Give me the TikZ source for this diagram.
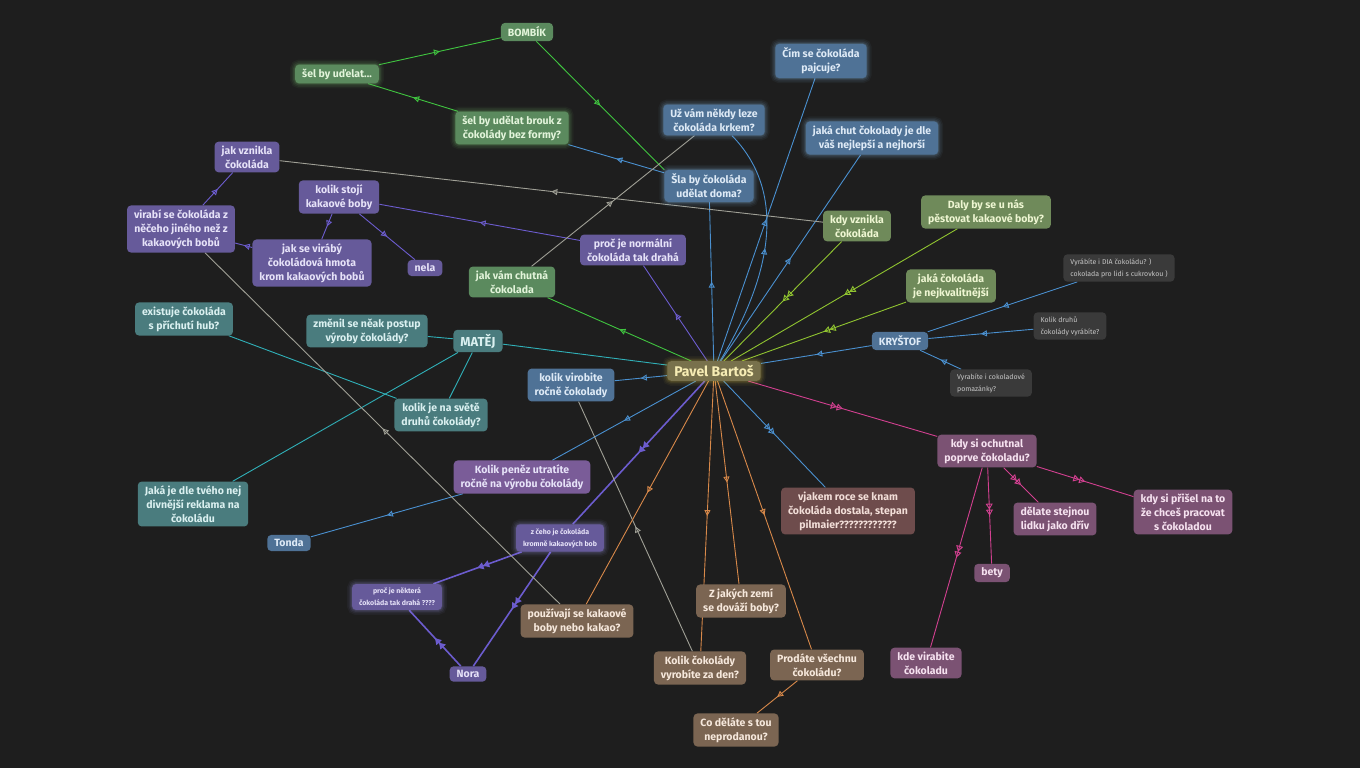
\documentclass[tikz,border=0pt]{standalone}
\usepackage{fontspec}
\setmainfont{Fira Sans}
\usetikzlibrary{arrows.meta,decorations.markings,backgrounds}

\definecolor{bgc}{RGB}{30,30,30}
\definecolor{ctrfill}{RGB}{120,113,76}
\definecolor{ctrtext}{RGB}{246,236,180}
\definecolor{ctrglow}{RGB}{214,190,70}
\definecolor{grnfill}{RGB}{91,138,94}
\definecolor{grntext}{RGB}{226,244,218}
\definecolor{grnline}{RGB}{64,196,64}
\definecolor{grnglow}{RGB}{130,210,120}
\definecolor{blufill}{RGB}{79,114,150}
\definecolor{blutext}{RGB}{222,234,246}
\definecolor{bluline}{RGB}{74,144,208}
\definecolor{bluglow}{RGB}{140,190,235}
\definecolor{purfill}{RGB}{102,90,154}
\definecolor{purfill2}{RGB}{122,92,152}
\definecolor{purtext}{RGB}{230,226,248}
\definecolor{purline}{RGB}{108,92,206}
\definecolor{purglow}{RGB}{160,150,230}
\definecolor{olvfill}{RGB}{111,138,90}
\definecolor{olvtext}{RGB}{238,246,210}
\definecolor{olvline}{RGB}{144,196,48}
\definecolor{teafill}{RGB}{74,124,126}
\definecolor{teatext}{RGB}{218,240,240}
\definecolor{tealine}{RGB}{48,176,184}
\definecolor{gryfill}{RGB}{58,58,58}
\definecolor{grytext}{RGB}{200,200,200}
\definecolor{pnkfill}{RGB}{123,82,115}
\definecolor{pnktext}{RGB}{246,226,240}
\definecolor{pnkline}{RGB}{210,64,144}
\definecolor{brnfill}{RGB}{123,101,82}
\definecolor{brntext}{RGB}{246,232,220}
\definecolor{brnline}{RGB}{216,137,74}
\definecolor{redfill}{RGB}{110,76,76}
\definecolor{redtext}{RGB}{242,222,216}
\definecolor{greyline}{RGB}{160,160,150}

\begin{document}
\begin{tikzpicture}[x=1pt,y=-1pt,
            every node/.style={rounded corners=4pt, align=center, inner xsep=7pt, inner ysep=4pt,
                               font=\bfseries\fontsize{10.5}{14}\selectfont},
            ctr/.style={fill=ctrfill, text=ctrtext, font=\bfseries\fontsize{14}{16}\selectfont},
            grn/.style={fill=grnfill, text=grntext},
            blu/.style={fill=blufill, text=blutext},
            pur/.style={fill=purfill, text=purtext},
            pur2/.style={fill=purfill2, text=purtext},
            olv/.style={fill=olvfill, text=olvtext},
            tea/.style={fill=teafill, text=teatext},
            gry/.style={fill=gryfill, text=grytext, align=left, font=\fontsize{7}{12}\selectfont},
            pnk/.style={fill=pnkfill, text=pnktext},
            brn/.style={fill=brnfill, text=brntext},
            redb/.style={fill=redfill, text=redtext},
            tiny/.style={font=\bfseries\fontsize{7}{12}\selectfont},
            glow/.style={preaction={draw=#1, line width=10pt, draw opacity=0.05},
                         preaction={draw=#1, line width=7pt, draw opacity=0.07},
                         preaction={draw=#1, line width=4pt, draw opacity=0.1},
                         preaction={draw=#1, line width=1.5pt, draw opacity=0.15}},
            glow/.default=white,
            conn/.style={line width=0.9pt},
            midarr/.style={postaction={decorate}, decoration={markings,
                mark=at position 0.5 with {\arrow{Triangle[open,length=6pt,width=6pt]}}}},
            dblarr/.style={postaction={decorate}, decoration={markings,
                mark=at position 0.5 with {\arrow{Triangle[open,length=6pt,width=7pt] Triangle[open,length=6pt,width=7pt]}}}},
            ]

    % centre
    \node[ctr, glow=ctrglow] (pavel) at (714,371) {Pavel Bartoš};

    % green
    \node[grn] (bombik) at (527,32) {BOMBÍK};
    \node[grn, glow=grnglow] (selby) at (337,74) {šel by uďelat...};
    \node[grn, glow=grnglow] (brouk) at (512,128) {šel by udělat brouk z\\čokolády bez formy?};
    \node[grn] (chutna) at (512,282) {jak vám chutná\\čokolada};

    % blue
    \node[blu, glow=bluglow] (uzvam) at (714,120) {Už vám někdy leze\\čokoláda krkem?};
    \node[blu, glow=bluglow] (cim) at (821,61) {Čím se čokoláda\\pajcuje?};
    \node[blu, glow=bluglow] (chut) at (872,138) {jaká chut čokolady je dle\\váš nejlepší a nejhorší};
    \node[blu, glow=bluglow] (sla) at (709,186) {Šla by čokoláda\\udělat doma?};
    \node[blu] (kolikvir) at (571,385) {kolik virobite\\ročně čokolady};
    \node[blu] (tonda) at (289,543) {Tonda};
    \node[blu] (krystof) at (900,341) {KRYŠTOF};

    \node[gry] (dia) at (1119,268) {Vyrábíte i DIA čokoládu? )\\cokolada pro lidi s cukrovkou )};
    \node[gry] (druhu) at (1070,326) {Kolik druhů\\čokolády vyrábíte?};
    \node[gry] (pomaz) at (991,383) {Vyrabíte i cokoladové\\pomazánky?};

    % purple
    \node[pur] (jakvz) at (247,157) {jak vznikla\\čokoláda};
    \node[pur] (stoji) at (339,197) {kolik stojí\\kakaové boby};
    \node[pur] (virabi) at (181,229) {virabí se čokoláda z\\něčeho jiného než z\\kakaových bobů};
    \node[pur] (jakse) at (312,263) {jak se virábý\\čokoládová hmota\\krom kakaových bobů};
    \node[pur] (nela) at (425,268) {nela};
    \node[pur] (normalni) at (633,250) {proč je normální\\čokoláda tak drahá};
    \node[pur2] (penez) at (522,477) {Kolik peněz utratíte\\ročně na výrobu čokolády};
    \node[pur, tiny, glow=purglow] (zceho) at (560,538) {z čeho je čokoláda\\kromně kakaových bob};
    \node[pur, tiny, glow=purglow] (procnek) at (397,597) {proč je některá\\čokoláda tak drahá ????};
    \node[pur] (nora) at (468,674) {Nora};

    % olive
    \node[olv] (kdyvz) at (857,226) {kdy vznikla\\čokoláda};
    \node[olv] (daly) at (986,212) {Daly by se u nás\\pěstovat kakaové boby?};
    \node[olv] (nejkval) at (951,286) {jaká čokoláda\\je nejkvalitnější};

    % teal
    \node[tea, font=\bfseries\fontsize{13}{15}\selectfont] (matej) at (478,341) {MATĚJ};
    \node[tea] (existuje) at (184,319) {existuje čokoláda\\s příchutí hub?};
    \node[tea] (zmenil) at (367,331) {změnil se něak postup\\výroby čokolády?};
    \node[tea] (nasvete) at (441,415) {kolik je na světě\\druhů čokolády?};
    \node[tea] (reklama) at (193,504) {Jaká je dle tvého nej\\divnější reklama na\\čokoládu};

    % pink
    \node[pnk] (ochutnal) at (987,451) {kdy si ochutnal\\poprve čokoladu?};
    \node[pnk] (delate) at (1055,519) {dělate stejnou\\lidku jako dřív};
    \node[pnk] (prisel) at (1183,512) {kdy si přišel na to\\že chceš pracovat\\s čokoladou};
    \node[pnk] (bety) at (992,573) {bety};
    \node[pnk] (kde) at (926,663) {kde virabite\\čokoladu};

    % brown
    \node[brn] (pouziv) at (577,621) {používají se kakaové\\boby nebo kakao?};
    \node[brn] (zjakych) at (741,601) {Z jakých zemí\\se dováží boby?};
    \node[brn] (kolikcok) at (700,668) {Kolik čokolády\\vyrobíte za den?};
    \node[brn] (prodate) at (817,665) {Prodáte všechnu\\čokoládu?};
    \node[brn] (codel) at (736,730) {Co děláte s tou\\neprodanou?};
    \node[redb] (vjakem) at (848,511) {vjakem roce se knam\\čokoláda dostala, stepan\\pilmaier????????????};

    \begin{pgfonlayer}{background}
        \fill[bgc] (0,0) rectangle (1360,768);
        \useasboundingbox (0,0) rectangle (1360,768);

        \begin{scope}[conn, grnline]
            \draw[midarr] (selby) -- (bombik);
            \draw[midarr] (brouk) -- (selby);
            \draw[midarr] (bombik) -- (sla.north west);
            \draw[midarr] (pavel) -- (chutna);
        \end{scope}

        \begin{scope}[conn, bluline]
            \draw[midarr] (pavel) -- (sla);
            \draw[midarr] (pavel) -- (cim);
            \draw[midarr] ([xshift=6pt]pavel.north) .. controls (775,270) and (785,190) .. ([xshift=18pt]uzvam.south);
            \draw[midarr] (pavel) -- (chut);
            \draw[midarr] (sla) -- (brouk);
            \draw[midarr] (pavel) -- (kolikvir);
            \draw[midarr] (pavel) -- (penez);
            \draw[midarr] (penez) -- (tonda);
            \draw[midarr] (krystof) -- (pavel);
            \draw[midarr] (dia) -- (krystof);
            \draw[midarr] (druhu) -- (krystof);
            \draw[midarr] (pomaz) -- (krystof);
            \draw[dblarr] (pavel) -- (vjakem);
        \end{scope}

        \begin{scope}[conn, olvline]
            \draw[dblarr] (kdyvz) -- (pavel);
            \draw[dblarr] (daly) -- (pavel);
            \draw[dblarr] (nejkval) -- (pavel);
        \end{scope}

        \begin{scope}[conn, tealine]
            \draw (pavel) -- (matej);
            \draw (matej) -- (zmenil);
            \draw (matej) -- (nasvete);
            \draw (matej) -- (reklama);
            \draw (existuje) -- (nasvete);
        \end{scope}

        \begin{scope}[conn, purline]
            \draw[midarr] (pavel) -- (normalni);
            \draw[midarr] (normalni) -- (stoji);
            \draw[midarr] (stoji) -- (jakse);
            \draw[midarr] (stoji) -- (nela);
            \draw[midarr] (jakse) -- (virabi);
            \draw[midarr] (virabi) -- (jakvz);
            \draw[dblarr, line width=1.6pt] (pavel) -- (zceho);
            \draw[dblarr, line width=1.6pt] (zceho) -- (procnek);
            \draw[dblarr, line width=1.6pt] (zceho) -- (nora);
            \draw[dblarr, line width=1.6pt] (nora) -- (procnek);
        \end{scope}

        \begin{scope}[conn, greyline]
            \draw[midarr] (kdyvz) -- (jakvz);
            \draw[midarr] (chutna) -- (uzvam);
            \draw[midarr] (pouziv) -- (virabi);
            \draw[midarr] (kolikcok) -- (kolikvir);
        \end{scope}

        \begin{scope}[conn, brnline]
            \draw[midarr] (pavel) -- (pouziv);
            \draw[midarr] (pavel) -- (kolikcok);
            \draw[midarr] (pavel) -- (zjakych);
            \draw[midarr] (pavel) -- (prodate);
            \draw[midarr] (prodate) -- (codel);
        \end{scope}

        \begin{scope}[conn, pnkline]
            \draw[dblarr] (pavel) -- (ochutnal);
            \draw[dblarr] (ochutnal) -- (delate);
            \draw[dblarr] (ochutnal) -- (prisel);
            \draw[dblarr] (ochutnal) -- (bety);
            \draw[dblarr] (ochutnal) -- (kde);
        \end{scope}
    \end{pgfonlayer}
\end{tikzpicture}
\end{document}
